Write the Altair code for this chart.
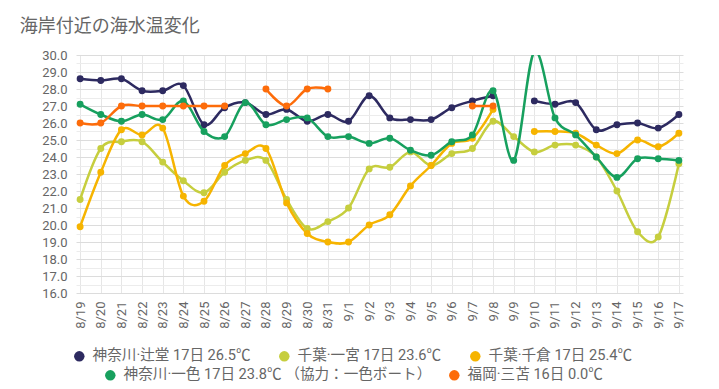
import altair as alt
import pandas as pd

dates = ["8/19", "8/20", "8/21", "8/22", "8/23", "8/24", "8/25", "8/26", "8/27", "8/28",
         "8/29", "8/30", "8/31", "9/1", "9/2", "9/3", "9/4", "9/5", "9/6", "9/7",
         "9/8", "9/9", "9/10", "9/11", "9/12", "9/13", "9/14", "9/15", "9/16", "9/17"]

names = ["神奈川·辻堂 17日 26.5℃", "千葉·一宮 17日 23.6℃", "千葉·千倉 17日 25.4℃",
         "神奈川·一色 17日 23.8℃ （協力：一色ボート）", "福岡·三苫 16日 0.0℃"]
colors = ["#2d2a60", "#c6ce3e", "#f6b400", "#17a05e", "#fd6c0a"]

tsujido = [28.6, 28.5, 28.6, 27.9, 27.9, 28.2, 25.9, 26.9, 27.2, 26.5, 26.8, 26.1, 26.5,
           26.1, 27.6, 26.3, 26.2, 26.2, 26.9, 27.3, 27.6, None, 27.3, 27.1, 27.2, 25.6,
           25.9, 26.0, 25.7, 26.5]
ichinomiya = [21.5, 24.5, 24.9, 24.9, 23.7, 22.6, 21.9, 23.1, 23.8, 23.8, 21.5, 19.8, 20.2,
              21.0, 23.3, 23.4, 24.3, 23.5, 24.2, 24.5, 26.1, 25.2, 24.3, 24.7, 24.7, 24.0,
              22.0, 19.6, 19.3, 23.6]
chikura = [19.9, 23.1, 25.6, 25.3, 25.7, 21.7, 21.4, 23.5, 24.2, 24.5, 21.3, 19.5, 19.0,
           19.0, 20.0, 20.6, 22.3, 23.5, 24.8, 25.1, 26.8, None, 25.5, 25.5, 25.4, 24.7,
           24.2, 25.0, 24.6, 25.4]
isshiki = [27.1, 26.5, 26.1, 26.5, 26.2, 27.3, 25.5, 25.2, 27.2, 25.9, 26.2, 26.3, 25.2,
           25.2, 24.8, 25.1, 24.4, 24.1, 24.9, 25.3, 27.9, 23.8, 30.2, 26.3, 25.3, 24.0,
           22.8, 23.9, 23.9, 23.8]
mitoma = [26.0, 26.0, 27.0, 27.0, 27.0, 27.0, 27.0, 27.0, None, 28.0, 27.0, 28.0, 28.0,
          None, None, None, None, None, None, 27.0, 27.0, None, None, None, None, None,
          None, None, None, None]

series_values = [tsujido, ichinomiya, chikura, isshiki, mitoma]

rows = []
for name, vals in zip(names, series_values):
    for d, v in zip(dates, vals):
        rows.append({"series": name, "date": d, "value": v})
df = pd.DataFrame(rows)

FONT = "Roboto, 'Noto Sans CJK JP', sans-serif"
y_ticks = [16 + 0.5 * i for i in range(29)]

x_enc = alt.X("date:N", sort=dates,
              scale=alt.Scale(type="point", padding=0.2),
              axis=alt.Axis(title=None, labelAngle=-90, labelPadding=8, grid=True,
                            ticks=False, domain=False))
y_enc = alt.Y("value:Q",
              scale=alt.Scale(domain=[16, 30], nice=False, zero=False),
              axis=alt.Axis(title=None, values=y_ticks,
                            labelExpr="datum.value % 1 === 0 ? format(datum.value, '.1f') : ''",
                            labelPadding=9, grid=True, ticks=False, domain=False,
                            gridColor={"condition": {"test": "datum.value % 1 === 0", "value": "#dcdcdc"},
                                       "value": "#ececec"}))


def group(sub_names, sub_colors, lx, ly, colpad):
    d = df[df["series"].isin(sub_names)]
    leg = alt.Legend(orient="none", legendX=lx, legendY=ly, direction="horizontal", title=None,
                     columnPadding=colpad)
    col = alt.Color("series:N", scale=alt.Scale(domain=sub_names, range=sub_colors), legend=leg)
    base = alt.Chart(d).encode(x=x_enc, y=y_enc, color=col)
    line = base.mark_line(interpolate="cardinal", strokeWidth=2.5, clip=True,
                          invalid="break-paths-show-domains")
    pts = base.mark_circle(size=48, opacity=1, clip=True)
    return alt.layer(line, pts)


g1 = group(names[:3], colors[:3], -4, 294, 26)
g2 = group(names[3:], colors[3:], 27, 313, 15)

chart = alt.layer(g1, g2).resolve_scale(color="independent").properties(
    width=607, height=238,
    padding={"left": 68, "top": 47, "right": 28, "bottom": 88},
    autosize=alt.AutoSizeParams(type="none"),
    title=alt.TitleParams(text="海岸付近の海水温変化", anchor="start", dx=-22, offset=13,
                          fontSize=18, color="#666666", fontWeight="normal", font=FONT),
).configure_view(stroke=None).configure_axis(
    labelFont=FONT, labelColor="#666666", labelFontSize=13, gridColor="#e6e6e6"
).configure_legend(
    labelFont=FONT, labelColor="#666666", labelFontSize=14.6, symbolType="circle",
    symbolSize=110, symbolStrokeWidth=0, labelOffset=6, padding=0,
    labelLimit=500
)

chart.save("out.html", embed_options={"renderer": "svg", "actions": False})
